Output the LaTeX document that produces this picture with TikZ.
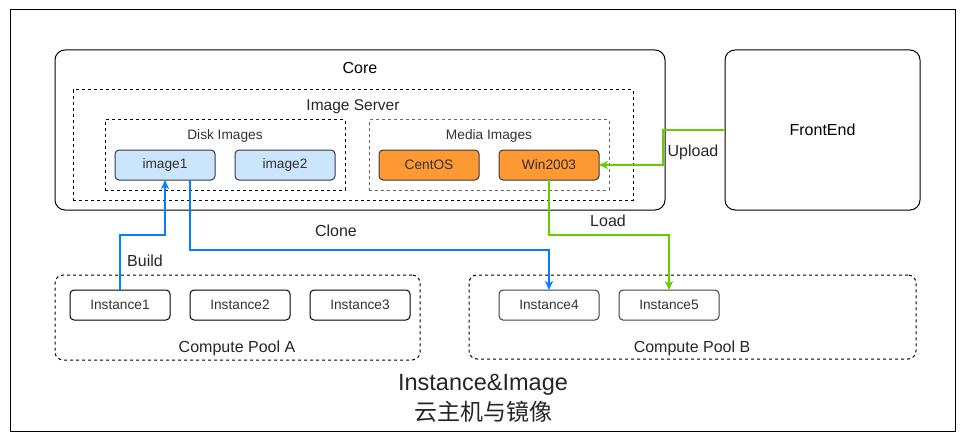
\documentclass[tikz,border=0pt]{standalone}
\usepackage{fontspec}
\setmainfont{Liberation Sans}
\newfontfamily\cjk{Noto Sans CJK SC}
\usetikzlibrary{arrows.meta}
\definecolor{cblue}{HTML}{007FFF}
\definecolor{cgreen}{HTML}{66CC00}
\definecolor{lblue}{HTML}{CCE5FF}
\definecolor{orng}{HTML}{FF9933}
\definecolor{dgray}{HTML}{36393D}
\definecolor{txt}{HTML}{333333}
\tikzset{
  every node/.style={inner sep=0pt, outer sep=0pt, font=\fontsize{13.7}{16}\selectfont, text=txt},
  frame/.style={draw=black, line width=1pt, rounded corners=10pt},
  dbox/.style={draw=black, line width=1pt, dash pattern=on 3pt off 3pt},
  dboxg/.style={draw=black!60, line width=1pt, dash pattern=on 3pt off 3pt},
  imgbox/.style={draw=dgray, line width=1pt, fill=lblue, rounded corners=4pt, minimum width=100pt, minimum height=30pt},
  medbox/.style={draw=dgray, line width=1pt, fill=orng, rounded corners=4pt, minimum width=100pt, minimum height=30pt},
  instbox/.style={draw=black, line width=1pt, fill=white, rounded corners=4pt, minimum width=100pt, minimum height=30pt},
  instboxg/.style={draw=black!75, line width=1pt, fill=white, rounded corners=4pt, minimum width=100pt, minimum height=30pt},
  big/.style={font=\fontsize{16}{19}\selectfont, text=black!85},
  conn/.style={line width=2pt, -{Stealth[length=9pt,width=8pt,inset=2.5pt]}},
}
\begin{document}
\begin{tikzpicture}[x=1pt,y=-1pt]
\useasboundingbox (0,0) rectangle (966,441);
\fill[white] (0,0) rectangle (966,441);
% outer frame
\draw[line width=1pt] (10,10) rectangle (955,431);
% Core
\node[frame, minimum width=610pt, minimum height=160pt] (core) at (360,130) {};
\node[big, text=black] (corelbl) at (360,68) {Core};
% Image server
\node[dbox, minimum width=560pt, minimum height=110pt] (imgsrv) at (353,145) {};
\node[big, font=\fontsize{15.5}{18}\selectfont] (imgsrvlbl) at (353,107) {Image Server};
% Disk images
\node[dbox, minimum width=240pt, minimum height=70pt] (disk) at (225,155) {};
\node (disklbl) at (225,136) {Disk Images};
% Media images
\node[dboxg, minimum width=240pt, minimum height=70pt] (media) at (489,155) {};
\node (medialbl) at (489,136) {Media Images};
% image boxes
\node[imgbox] (image1) at (165,165) {image1};
\node[imgbox] (image2) at (285,165) {image2};
\node[medbox] (centos) at (429,165) {CentOS};
\node[medbox] (win) at (549,165) {Win2003};
% FrontEnd
\node[frame, minimum width=195pt, minimum height=160pt, big, text=black] (fe) at (822.5,130) {FrontEnd};
% Compute Pool A
\node[dbox, rounded corners=8pt, minimum width=365pt, minimum height=85pt] (poolA) at (237.5,317.5) {};
\node[big] (poolAlbl) at (237,348) {Compute Pool A};
\node[instbox] (inst1) at (120,305) {Instance1};
\node[instbox] (inst2) at (240,305) {Instance2};
\node[instbox] (inst3) at (360,305) {Instance3};
% Compute Pool B
\node[dbox, rounded corners=8pt, minimum width=447pt, minimum height=84pt] (poolB) at (692.5,317) {};
\node[big] (poolBlbl) at (692,348) {Compute Pool B};
\node[instboxg] (inst4) at (549,305) {Instance4};
\node[instboxg] (inst5) at (669,305) {Instance5};
% connectors
\draw[conn, draw=cblue, color=cblue] (inst1.north) -- (inst1.north |- 0,235) -| (image1.south);
\node[big] (buildlbl) at (145,261) {Build};
\draw[conn, draw=cblue, color=cblue] ([xshift=25pt]image1.south) -- ++(0,70) -| (inst4.north);
\node[big] (clonelbl) at (336,231) {Clone};
\draw[conn, draw=cgreen, color=cgreen] (win.south) -- ++(0,55) -| (inst5.north);
\node[big] (loadlbl) at (608,221) {Load};
\draw[conn, draw=cgreen, color=cgreen] (fe.west) -| ([xshift=64pt]win.east) -- (win.east);
\node[big] (uploadlbl) at (693,152) {Upload};
% title
\node[font=\fontsize{23.5}{27}\selectfont, text=black!85] (title) at (483,385) {Instance\&Image};
\node[font=\cjk\fontsize{23}{27}\selectfont, text=black!85] (subtitle) at (483,412) {云主机与镜像};
\end{tikzpicture}
\end{document}
